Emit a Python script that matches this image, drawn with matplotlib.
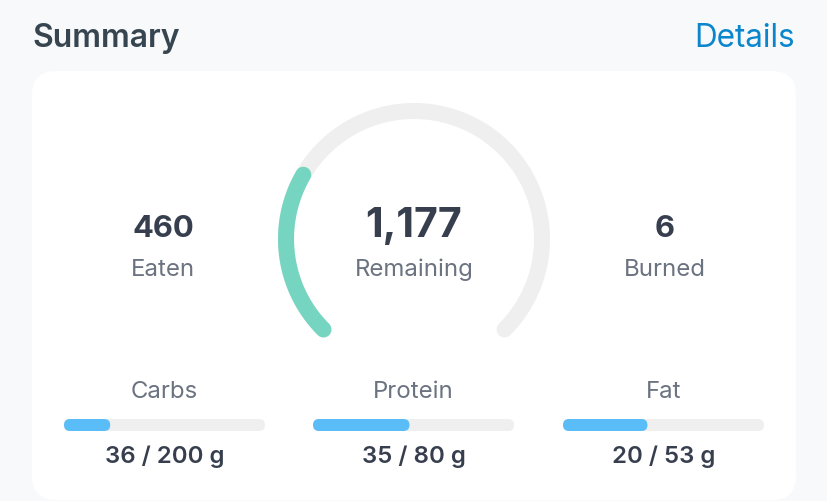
import matplotlib.pyplot as plt
import numpy as np
from matplotlib.patches import FancyBboxPatch

plt.rcParams['font.family'] = ['Inter', 'DejaVu Sans']

eaten = 460
remaining = 1177
burned = 6
macro_names = ['Carbs', 'Protein', 'Fat']
macro_labels = ['36 / 200 g', '35 / 80 g', '20 / 53 g']
macro_fill_pct = [23, 48, 42]

DARK = '#373f4e'
GREY = '#6b7280'
TRACK = '#efefef'
px = 0.72  # font px to pt at dpi 100

fig = plt.figure(figsize=(8.28, 5.01), dpi=100, facecolor='#f8f9fb')
ax = fig.add_axes([0, 0, 1, 1])
ax.set_xlim(0, 828)
ax.set_ylim(501, 0)
ax.axis('off')


def round_rect(x, y, w, h, r, color, z=1):
    ax.add_patch(FancyBboxPatch((x, y), w, h, boxstyle=f'round,pad=0,rounding_size={r}',
                                facecolor=color, edgecolor='none', zorder=z))


# card
round_rect(32, 71, 764, 429, 24, 'white')

ax.text(32, 35, 'Summary', fontsize=32 * px, fontweight='semibold', color='#36454f', va='center_baseline')
ax.text(795, 35, 'Details', fontsize=31.5 * px, color='#0b86cc', ha='right', va='center_baseline')


# gauge
def arc(start, sweep, color, z):
    t = np.radians(np.linspace(start, start - sweep, 200))
    ax.plot(414 + 128 * np.cos(t), 239 - 128 * np.sin(t), color=color, lw=16 * px,
            solid_capstyle='round', zorder=z)


used = (eaten - burned) / (eaten - burned + remaining)
arc(225, 270, TRACK, 2)
arc(225, 270 * used, '#76d5c1', 3)

ax.text(414, 222, f'{remaining:,}', fontsize=41 * px, fontweight='bold', color=DARK,
        ha='center', va='center_baseline')
ax.text(414, 267, 'Remaining', fontsize=24 * px, color=GREY, ha='center', va='center_baseline')

for x, value, label in [(163, eaten, 'Eaten'), (665, burned, 'Burned')]:
    ax.text(x, 226, str(value), fontsize=31 * px, fontweight='bold', color=DARK,
            ha='center', va='center_baseline')
    ax.text(x, 267, label, fontsize=24 * px, color=GREY, ha='center', va='center_baseline')

# macro bars
for x0, name, label, pct in zip([64, 313, 563], macro_names, macro_labels, macro_fill_pct):
    cx = x0 + 100.5
    ax.text(cx, 389, name, fontsize=24 * px, color=GREY, ha='center', va='center_baseline')
    round_rect(x0, 419, 201, 12, 6, TRACK, 2)
    round_rect(x0, 419, 201 * pct / 100, 12, 6, '#5bbdf8', 3)
    ax.text(cx, 454, label, fontsize=24 * px, fontweight='semibold', color=DARK,
            ha='center', va='center_baseline')

fig.savefig('out.png', dpi=100, facecolor=fig.get_facecolor())
